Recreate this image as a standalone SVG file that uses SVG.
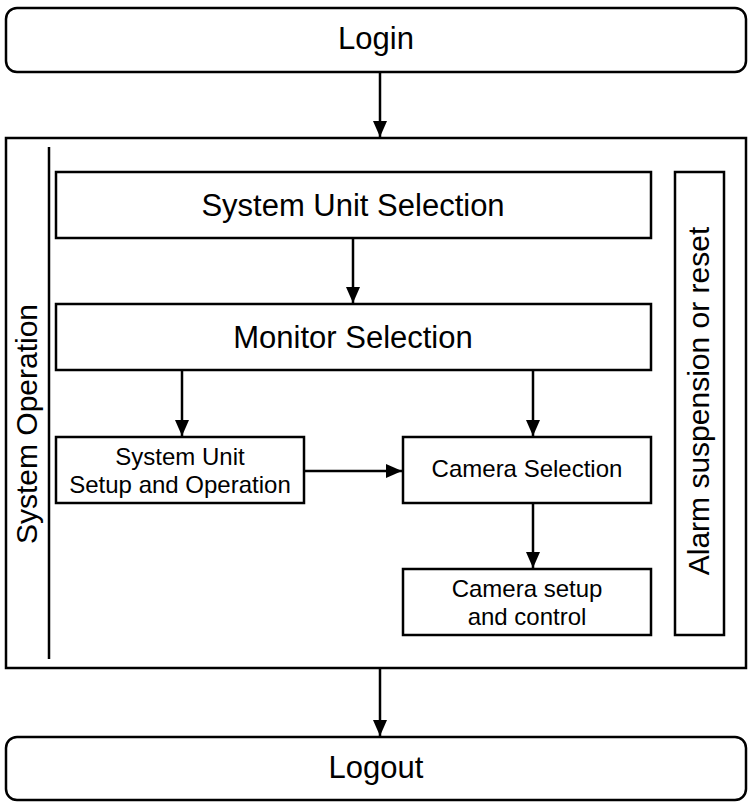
<svg xmlns="http://www.w3.org/2000/svg" width="748" height="803" viewBox="0 0 748 803">
<defs>
<style>
.box{fill:#fff;stroke:#000;stroke-width:2.5}
.ln{fill:none;stroke:#000;stroke-width:2.5}
.big{font-family:"Liberation Sans",Arial,sans-serif;font-size:31px;fill:#000;text-anchor:middle}
.rot{font-family:"Liberation Sans",Arial,sans-serif;font-size:30px;fill:#000;text-anchor:middle}
.sm{font-family:"Liberation Sans",Arial,sans-serif;font-size:24px;fill:#000;text-anchor:middle}
</style>
<marker id="ah" markerUnits="userSpaceOnUse" markerWidth="18" markerHeight="14" refX="16" refY="7" orient="auto">
<path d="M0,0 L16,7 L0,14 Z" fill="#000"/>
</marker>
</defs>
<g id="login"><rect class="box" x="6" y="8" width="740" height="64" rx="11"/><text class="big" x="376" y="49">Login</text></g>
<g id="system-operation"><rect class="box" x="6" y="138" width="740" height="530"/><line class="ln" x1="49" y1="147" x2="49" y2="659"/><text class="rot" transform="translate(37,424) rotate(-90)">System Operation</text></g>
<g id="system-unit-selection"><rect class="box" x="56" y="172" width="595" height="66"/><text class="big" x="353" y="216">System Unit Selection</text></g>
<g id="monitor-selection"><rect class="box" x="56" y="304" width="595" height="66"/><text class="big" x="353" y="348">Monitor Selection</text></g>
<g id="alarm"><rect class="box" x="675" y="172" width="49" height="463"/><text class="rot" transform="translate(709,401) rotate(-90)">Alarm suspension or reset</text></g>
<g id="system-unit-setup"><rect class="box" x="56" y="437" width="248" height="66"/><text class="sm" x="180" y="465">System Unit</text><text class="sm" x="180" y="493">Setup and Operation</text></g>
<g id="camera-selection"><rect class="box" x="403" y="437" width="248" height="66"/><text class="sm" x="527" y="477">Camera Selection</text></g>
<g id="camera-setup"><rect class="box" x="403" y="569" width="248" height="66"/><text class="sm" x="527" y="597">Camera setup</text><text class="sm" x="527" y="625">and control</text></g>
<g id="logout"><rect class="box" x="6" y="737" width="740" height="63" rx="11"/><text class="big" x="376" y="778">Logout</text></g>
<g id="connectors">
<line class="ln" x1="380" y1="72" x2="380" y2="137" marker-end="url(#ah)"/>
<line class="ln" x1="353" y1="238" x2="353" y2="303" marker-end="url(#ah)"/>
<line class="ln" x1="182" y1="370" x2="182" y2="436" marker-end="url(#ah)"/>
<line class="ln" x1="533" y1="370" x2="533" y2="436" marker-end="url(#ah)"/>
<line class="ln" x1="304" y1="471" x2="402" y2="471" marker-end="url(#ah)"/>
<line class="ln" x1="533" y1="503" x2="533" y2="568" marker-end="url(#ah)"/>
<line class="ln" x1="380" y1="668" x2="380" y2="736" marker-end="url(#ah)"/>
</g>
</svg>
